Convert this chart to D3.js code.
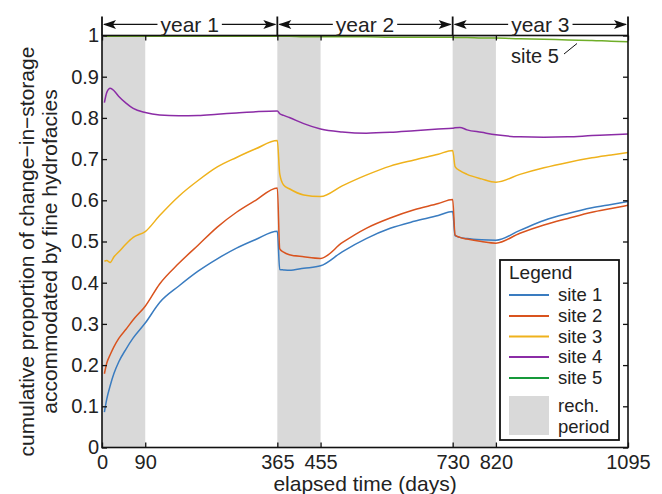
<!DOCTYPE html>
<html><head><meta charset="utf-8">
<script src="https://cdn.jsdelivr.net/npm/d3@7"></script>
<style>
html,body{margin:0;padding:0;background:#fff;}
text{font-family:"Liberation Sans",Arial,Helvetica,sans-serif;fill:#222;}
</style></head>
<body><svg id="chart" width="662" height="494"></svg>
<script>
const days = [5,10,17,25,35,50,65,90,120,160,200,240,280,320,365,370,378,390,420,455,500,550,600,650,700,730,735,745,760,790,820,870,920,970,1020,1060,1095];
const site1 = [0.086,0.118,0.150,0.180,0.208,0.239,0.266,0.302,0.352,0.392,0.428,0.458,0.484,0.505,0.525,0.432,0.431,0.430,0.435,0.441,0.475,0.507,0.532,0.549,0.563,0.573,0.514,0.510,0.507,0.504,0.503,0.527,0.551,0.568,0.582,0.590,0.597];
const site2 = [0.179,0.205,0.225,0.245,0.265,0.287,0.310,0.343,0.397,0.447,0.491,0.535,0.571,0.600,0.630,0.482,0.474,0.468,0.463,0.459,0.497,0.532,0.557,0.577,0.592,0.602,0.516,0.510,0.506,0.500,0.496,0.520,0.540,0.556,0.571,0.580,0.588];
const site3 = [0.452,0.454,0.449,0.463,0.475,0.494,0.510,0.524,0.563,0.610,0.648,0.681,0.704,0.725,0.745,0.664,0.637,0.628,0.613,0.609,0.635,0.661,0.683,0.698,0.712,0.721,0.682,0.672,0.663,0.652,0.644,0.663,0.679,0.692,0.703,0.710,0.716];
const site4 = [0.837,0.862,0.872,0.866,0.852,0.836,0.823,0.813,0.807,0.805,0.806,0.809,0.812,0.815,0.817,0.810,0.806,0.801,0.786,0.773,0.766,0.763,0.765,0.769,0.773,0.775,0.776,0.777,0.771,0.765,0.759,0.754,0.753,0.754,0.757,0.759,0.761];
const site5 = [0.998,0.998,0.998,0.998,0.998,0.998,0.998,0.998,0.998,0.998,0.998,0.998,0.998,0.998,0.998,0.998,0.998,0.998,0.997,0.997,0.997,0.997,0.996,0.996,0.996,0.996,0.995,0.995,0.995,0.994,0.994,0.992,0.991,0.989,0.988,0.986,0.985];
const seriesNames = ["site 1","site 2","site 3","site 4","site 5"];
const seriesColors = ["#3a7cc0","#d9531e","#efb21c","#8b2ca6","#6fae28"];
const legendColors = ["#3a7cc0","#d9531e","#efb21c","#8b2ca6","#16993a"];
const rechargePeriods = [[0,90],[365,455],[730,820]];
const xTicks = [0,90,365,455,730,820,1095];
const yTicks = [0,0.1,0.2,0.3,0.4,0.5,0.6,0.7,0.8,0.9,1];
const yearLabels = ["year 1","year 2","year 3"];
const yearBounds = [0,365,730,1095];

const svg = d3.select("#chart");
const L=102, R=628, T=35.5, B=447.5;
const FS = 20, FL = 21, FLG = 18.5;
const x = d3.scaleLinear().domain([0,1095]).range([L,R]);
const y = d3.scaleLinear().domain([0,1]).range([B,T]);

svg.append("defs").append("clipPath").attr("id","clip")
  .append("rect").attr("x",L).attr("y",T).attr("width",R-L).attr("height",B-T);

// recharge bands
svg.append("g").selectAll("rect").data(rechargePeriods).join("rect")
  .attr("x",d=>x(d[0])).attr("width",d=>x(d[1])-x(d[0]))
  .attr("y",T).attr("height",B-T).attr("fill","#d9d9d9");

// lines
const all = [site1,site2,site3,site4,site5];
const line = d3.line().x((d,i)=>x(days[i])).y(d=>y(d)).curve(d3.curveMonotoneX);
const gl = svg.append("g").attr("clip-path","url(#clip)");
all.forEach((s,k)=>{
  gl.append("path").attr("d",line(s)).attr("fill","none")
    .attr("stroke",seriesColors[k]).attr("stroke-width",1.5);
});

// axes
const tick = 5;
const ax = svg.append("g").attr("transform",`translate(0,${B})`)
  .call(d3.axisBottom(x).tickValues(xTicks).tickSize(-tick).tickPadding(7).tickFormat(d3.format("d")));
const axT = svg.append("g").attr("transform",`translate(0,${T})`)
  .call(d3.axisTop(x).tickValues(xTicks).tickSize(-tick).tickFormat(""));
const ay = svg.append("g").attr("transform",`translate(${L},0)`)
  .call(d3.axisLeft(y).tickValues(yTicks).tickSize(-tick).tickPadding(3).tickFormat(d=>d===0?"0":d===1?"1":d3.format(".1f")(d)));
const ayR = svg.append("g").attr("transform",`translate(${R},0)`)
  .call(d3.axisRight(y).tickValues(yTicks).tickSize(-tick).tickFormat(""));
[ax,axT,ay,ayR].forEach(g=>{
  g.select(".domain").remove();
  g.selectAll(".tick line").attr("stroke","#111").attr("stroke-width",1.3);
  g.selectAll("text").attr("font-size",FS).attr("fill","#222").attr("font-family","Liberation Sans, Arial, sans-serif");
});
ax.selectAll("text").attr("dy","0.71em");
svg.append("rect").attr("x",L).attr("y",T).attr("width",R-L).attr("height",B-T)
  .attr("fill","none").attr("stroke","#111").attr("stroke-width",1.6);

// axis labels
svg.append("text").attr("x",(L+R)/2).attr("y",491).attr("text-anchor","middle")
  .attr("font-size",FL).text("elapsed time (days)");
const yl = svg.append("text").attr("transform",`translate(34,${(T+B)/2+10}) rotate(-90)`)
  .attr("text-anchor","middle").attr("font-size",FL);
yl.append("tspan").attr("x",0).attr("y",0).text("cumulative proportion of change\u2212in\u2212storage");
yl.append("tspan").attr("x",0).attr("y",23).text("accommodated by fine hydrofacies");

// year annotation
const ya = svg.append("g");
const arrowY = 24.4;
yearBounds.forEach(d=>{
  ya.append("line").attr("x1",x(d)).attr("x2",x(d)).attr("y1",16.5).attr("y2",T)
    .attr("stroke","#111").attr("stroke-width",1.8);
});
yearLabels.forEach((lab,i)=>{
  const x0 = x(yearBounds[i]), x1 = x(yearBounds[i+1]), xc=(x0+x1)/2;
  const t = ya.append("text").attr("x",xc).attr("y",arrowY).attr("dy","0.35em")
    .attr("text-anchor","middle").attr("font-size",FL).text(lab);
  const w = t.node().getComputedTextLength();
  const g1 = xc - w/2 - 3, g2 = xc + w/2 + 3;
  ya.append("line").attr("x1",x0+2).attr("x2",g1).attr("y1",arrowY).attr("y2",arrowY).attr("stroke","#111").attr("stroke-width",1.4);
  ya.append("line").attr("x1",g2).attr("x2",x1-2).attr("y1",arrowY).attr("y2",arrowY).attr("stroke","#111").attr("stroke-width",1.4);
  ya.append("path").attr("d",`M${x0+1},${arrowY} l13,-4.5 l-3,4.5 l3,4.5 Z`).attr("fill","#111");
  ya.append("path").attr("d",`M${x1-1},${arrowY} l-13,-4.5 l3,4.5 l-3,4.5 Z`).attr("fill","#111");
});

// site 5 annotation
svg.append("text").attr("x",511).attr("y",63).attr("font-size",FS).text("site 5");
svg.append("line").attr("x1",564).attr("y1",54).attr("x2",577).attr("y2",43.5)
  .attr("stroke","#111").attr("stroke-width",1);

// legend
const lg = svg.append("g");
lg.append("rect").attr("x",500).attr("y",260).attr("width",119).attr("height",180)
  .attr("fill","#fff").attr("stroke","#111").attr("stroke-width",1.8);
lg.append("text").attr("x",509).attr("y",279).attr("font-size",FLG+0.5).text("Legend");
const ly = [295,316,336.5,357,378];
seriesNames.forEach((n,i)=>{
  lg.append("line").attr("x1",509).attr("x2",549).attr("y1",ly[i]).attr("y2",ly[i])
    .attr("stroke",legendColors[i]).attr("stroke-width",2);
  lg.append("text").attr("x",558).attr("y",ly[i]).attr("dy","0.35em").attr("font-size",FLG).text(n);
});
lg.append("rect").attr("x",509).attr("y",396).attr("width",40).attr("height",39).attr("fill","#d9d9d9");
lg.append("text").attr("x",558).attr("y",411.5).attr("font-size",FLG).text("rech.");
lg.append("text").attr("x",558).attr("y",432.5).attr("font-size",FLG).text("period");
</script></body></html>
